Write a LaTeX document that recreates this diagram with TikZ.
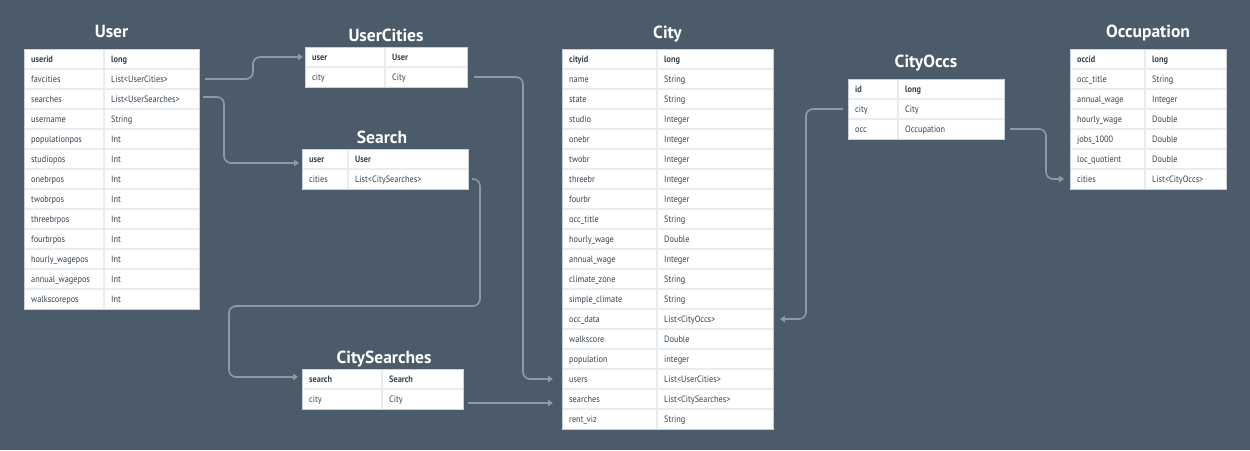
\documentclass[tikz,border=0pt]{standalone}
\usepackage{fontspec}
\setmainfont{PT Sans}
\newfontfamily\cellfont{PT Sans}[FakeStretch=0.9]
\usetikzlibrary{arrows.meta}
\definecolor{bg}{HTML}{4B5B6A}
\definecolor{conncol}{HTML}{8A9BA8}
\definecolor{sepcol}{HTML}{E8EDF1}
\definecolor{bordcol}{HTML}{C9D2DA}
\definecolor{txtcol}{HTML}{37414B}
\tikzset{
  rowbox/.style={fill=white, draw=none, inner sep=0pt, outer sep=0pt, minimum height=20pt, anchor=north west},
  celltext/.style={anchor=base west, inner sep=0pt, text=txtcol, font=\cellfont\fontsize{9.2}{10}\selectfont},
  tabtitle/.style={anchor=base, text=white, font=\fontsize{17.5}{20}\selectfont\bfseries, inner sep=0pt},
  conn/.style={draw=conncol, line width=1.6pt, rounded corners=7pt, -{Triangle[length=5pt,width=6.5pt]}},
}
% #1 name, #2 left, #3 top, #4 width, #5 first column width, #6 rows, #7 row count
\newcommand{\erdtable}[7]{%
  \foreach \a/\b [count=\i] in {#6}{%
    \node[rowbox, minimum width=#4pt] (#1-\i) at ({#2},{#3+20*(\i-1)}) {};
    \ifnum\i>1 \draw[sepcol, line width=1.6pt] (#1-\i.north west) -- (#1-\i.north east);\fi
    \draw[sepcol, line width=1.2pt] ({#2+#5},{#3+20*(\i-1)}) -- ({#2+#5},{#3+20*\i});
    \node[celltext] at ({#2+7},{#3+20*\i-7}) {\ifnum\i=1 \bfseries\fi\a};
    \node[celltext] at ({#2+#5+7},{#3+20*\i-7}) {\ifnum\i=1 \bfseries\fi\b};
  }
  \draw[bordcol, line width=0.6pt] (#1-1.north west) rectangle (#1-#7.south east);
}
\begin{document}
\begin{tikzpicture}[x=1pt,y=-1pt]
\fill[bg] (0,0) rectangle (1250,450);
\useasboundingbox (0,0) rectangle (1250,450);

% User
\node[tabtitle] (User-title) at (111.5,37) {User};
\erdtable{User}{24}{49}{175}{80}{userid/long, favcities/List<UserCities>, searches/List<UserSearches>, username/String, populationpos/Int, studiopos/Int, onebrpos/Int, twobrpos/Int, threebrpos/Int, fourbrpos/Int, hourly\_wagepos/Int, annual\_wagepos/Int, walkscorepos/Int}{13}

% UserCities
\node[tabtitle] (UserCities-title) at (386,41) {UserCities};
\erdtable{UserCities}{305}{47}{162}{80}{user/User, city/City}{2}

% Search
\node[tabtitle] (Search-title) at (382,143) {Search};
\erdtable{Search}{302}{149}{166}{46}{user/User, cities/List<CitySearches>}{2}

% CitySearches
\node[tabtitle] (CitySearches-title) at (384,363) {CitySearches};
\erdtable{CitySearches}{302}{369}{161}{80}{search/Search, city/City}{2}

% City
\node[tabtitle] (City-title) at (667.5,38) {City};
\erdtable{City}{562}{49}{211}{95}{cityid/long, name/String, state/String, studio/Integer, onebr/Integer, twobr/Integer, threebr/Integer, fourbr/Integer, occ\_title/String, hourly\_wage/Double, annual\_wage/Integer, climate\_zone/String, simple\_climate/String, occ\_data/List<CityOccs>, walkscore/Double, population/integer, users/List<UserCities>, searches/List<CitySearches>, rent\_viz/String}{19}

% CityOccs
\node[tabtitle] (CityOccs-title) at (926,67) {CityOccs};
\erdtable{CityOccs}{848}{79}{156}{50}{id/long, city/City, occ/Occupation}{3}

% Occupation
\node[tabtitle] (Occupation-title) at (1148,37) {Occupation};
\erdtable{Occupation}{1070}{49}{156}{75}{occid/long, occ\_title/String, annual\_wage/Integer, hourly\_wage/Double, jobs\_1000/Double, loc\_quotient/Double, cities/List<CityOccs>}{7}

% connectors
\draw[conn] ([xshift=6pt]User-2.east) -| ([xshift=-52pt]UserCities-1.west) -- ([xshift=-2pt]UserCities-1.west);
\draw[conn] ([xshift=4pt,yshift=2pt]User-3.east) -| ([xshift=-78pt,yshift=-4pt]Search-1.west) -- ([xshift=-3pt,yshift=-4pt]Search-1.west);
\coordinate (w3a) at (480,306);
\coordinate (w3b) at (229,306);
\draw[conn] ([xshift=4pt]Search-2.east) -| (w3a) -- (w3b) |- ([xshift=-4pt,yshift=2pt]CitySearches-1.west);
\draw[conn] ([xshift=7pt]UserCities-2.east) -| ([xshift=-39pt]City-17.west) -- ([xshift=-9pt]City-17.west);
\draw[conn] ([xshift=5pt,yshift=-4pt]CitySearches-2.east) -- ([xshift=-9pt,yshift=-4pt]City-18.west);
\draw[conn] ([xshift=-5pt]CityOccs-2.west) -| ([xshift=33pt]City-14.east) -- ([xshift=7pt]City-14.east);
\draw[conn] ([xshift=6pt]CityOccs-3.east) -| ([xshift=-24pt]Occupation-7.west) -- ([xshift=-6pt]Occupation-7.west);
\end{tikzpicture}
\end{document}
